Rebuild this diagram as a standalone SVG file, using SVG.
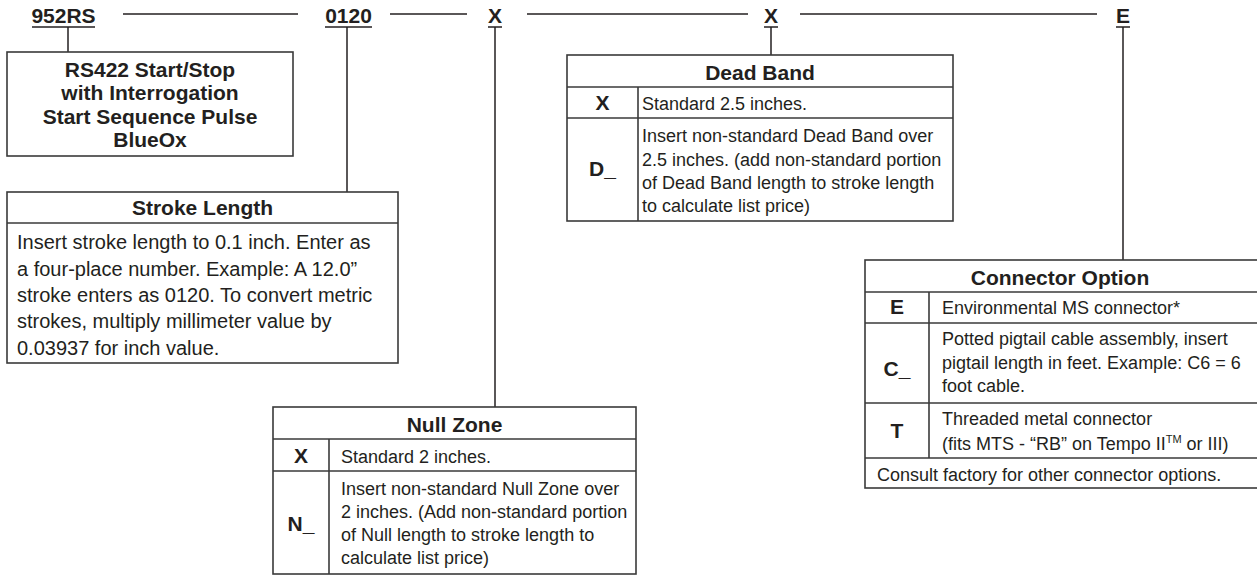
<svg xmlns="http://www.w3.org/2000/svg" width="1257" height="576" viewBox="0 0 1257 576">
<style>
  .ln { stroke:#231f20; stroke-width:1.5; fill:none; }
  .bx { stroke:#3a3a3a; stroke-width:1.6; fill:#ffffff; }
  .dv { stroke:#3a3a3a; stroke-width:1.6; }
  .b { font-family:"Liberation Sans", Arial, sans-serif; font-weight:bold; font-size:21px; fill:#231f20; }
  .bc { font-family:"Liberation Sans", Arial, sans-serif; font-weight:bold; font-size:21px; fill:#231f20; text-anchor:middle; }
  .t { font-family:"Liberation Sans", Arial, sans-serif; font-size:18px; fill:#231f20; }
  .s { font-family:"Liberation Sans", Arial, sans-serif; font-size:20px; fill:#231f20; }
</style>
<rect width="1257" height="576" fill="#ffffff"/>

<g id="connectors">
  <line class="ln" x1="123" y1="14" x2="298" y2="14"/>
  <line class="ln" x1="390" y1="14" x2="467" y2="14"/>
  <line class="ln" x1="527" y1="14" x2="748" y2="14"/>
  <line class="ln" x1="800" y1="14" x2="1097" y2="14"/>
  <line class="ln" x1="68" y1="27" x2="68" y2="52"/>
  <line class="ln" x1="347" y1="27" x2="347" y2="192"/>
  <line class="ln" x1="495" y1="27" x2="495" y2="407"/>
  <line class="ln" x1="771" y1="27" x2="771" y2="55"/>
  <line class="ln" x1="1123" y1="27" x2="1123" y2="260"/>
</g>

<g id="code-labels">
  <text class="bc" x="63.5" y="23">952RS</text>
  <line class="ln" x1="32" y1="27" x2="95" y2="27"/>
  <text class="bc" x="348.5" y="23">0120</text>
  <line class="ln" x1="325" y1="27" x2="372" y2="27"/>
  <text class="bc" x="495" y="23">X</text>
  <line class="ln" x1="488" y1="27" x2="502" y2="27"/>
  <text class="bc" x="771" y="23">X</text>
  <line class="ln" x1="764" y1="27" x2="778" y2="27"/>
  <text class="bc" x="1123" y="23">E</text>
  <line class="ln" x1="1116" y1="27" x2="1130" y2="27"/>
</g>

<g id="output-box">
  <rect class="bx" x="7" y="52" width="286" height="104"/>
  <text class="bc" x="150" y="77">RS422 Start/Stop</text>
  <text class="bc" x="150" y="100">with Interrogation</text>
  <text class="bc" x="150" y="124">Start Sequence Pulse</text>
  <text class="bc" x="150" y="147">BlueOx</text>
</g>

<g id="stroke-length">
  <rect class="bx" x="7" y="192" width="391" height="171"/>
  <line class="dv" x1="7" y1="223" x2="398" y2="223"/>
  <text class="bc" x="202.5" y="215">Stroke Length</text>
  <text class="s" x="17" y="249">Insert stroke length to 0.1 inch. Enter as</text>
  <text class="s" x="17" y="276">a four-place number. Example: A 12.0”</text>
  <text class="s" x="17" y="302">stroke enters as 0120. To convert metric</text>
  <text class="s" x="17" y="328">strokes, multiply millimeter value by</text>
  <text class="s" x="17" y="355">0.03937 for inch value.</text>
</g>

<g id="null-zone">
  <rect class="bx" x="273" y="407" width="363" height="167"/>
  <line class="dv" x1="273" y1="439" x2="636" y2="439"/>
  <line class="dv" x1="273" y1="471" x2="636" y2="471"/>
  <line class="dv" x1="329" y1="439" x2="329" y2="574"/>
  <text class="bc" x="454.5" y="432">Null Zone</text>
  <text class="bc" x="301" y="463">X</text>
  <text class="t" x="341" y="463">Standard 2 inches.</text>
  <text class="bc" x="301" y="531">N_</text>
  <text class="t" x="341" y="495">Insert non-standard Null Zone over</text>
  <text class="t" x="341" y="518">2 inches. (Add non-standard portion</text>
  <text class="t" x="341" y="541">of Null length to stroke length to</text>
  <text class="t" x="341" y="564">calculate list price)</text>
</g>

<g id="dead-band">
  <rect class="bx" x="567" y="55" width="386" height="166"/>
  <line class="dv" x1="567" y1="87" x2="953" y2="87"/>
  <line class="dv" x1="567" y1="118" x2="953" y2="118"/>
  <line class="dv" x1="638" y1="87" x2="638" y2="221"/>
  <text class="bc" x="760" y="80">Dead Band</text>
  <text class="bc" x="602.5" y="110">X</text>
  <text class="t" x="642" y="110">Standard 2.5 inches.</text>
  <text class="bc" x="602.5" y="176">D_</text>
  <text class="t" x="642" y="142">Insert non-standard Dead Band over</text>
  <text class="t" x="642" y="166">2.5 inches. (add non-standard portion</text>
  <text class="t" x="642" y="189">of Dead Band length to stroke length</text>
  <text class="t" x="642" y="212">to calculate list price)</text>
</g>

<g id="connector-option">
  <rect class="bx" x="865" y="260" width="394" height="228"/>
  <line class="dv" x1="865" y1="292" x2="1257" y2="292"/>
  <line class="dv" x1="865" y1="323" x2="1257" y2="323"/>
  <line class="dv" x1="865" y1="403" x2="1257" y2="403"/>
  <line class="dv" x1="865" y1="458" x2="1257" y2="458"/>
  <line class="dv" x1="929" y1="292" x2="929" y2="458"/>
  <text class="bc" x="1060" y="285">Connector Option</text>
  <text class="bc" x="897" y="314">E</text>
  <text class="t" x="942" y="314">Environmental MS connector*</text>
  <text class="bc" x="897" y="376">C_</text>
  <text class="t" x="942" y="345">Potted pigtail cable assembly, insert</text>
  <text class="t" x="942" y="369">pigtail length in feet. Example: C6 = 6</text>
  <text class="t" x="942" y="392">foot cable.</text>
  <text class="bc" x="897" y="438">T</text>
  <text class="t" x="942" y="425">Threaded metal connector</text>
  <text class="t" x="942" y="450">(fits MTS - “RB” on Tempo II<tspan font-size="11" dy="-7">TM</tspan><tspan dy="7"> or III)</tspan></text>
  <text class="t" x="877" y="481">Consult factory for other connector options.</text>
</g>
</svg>
